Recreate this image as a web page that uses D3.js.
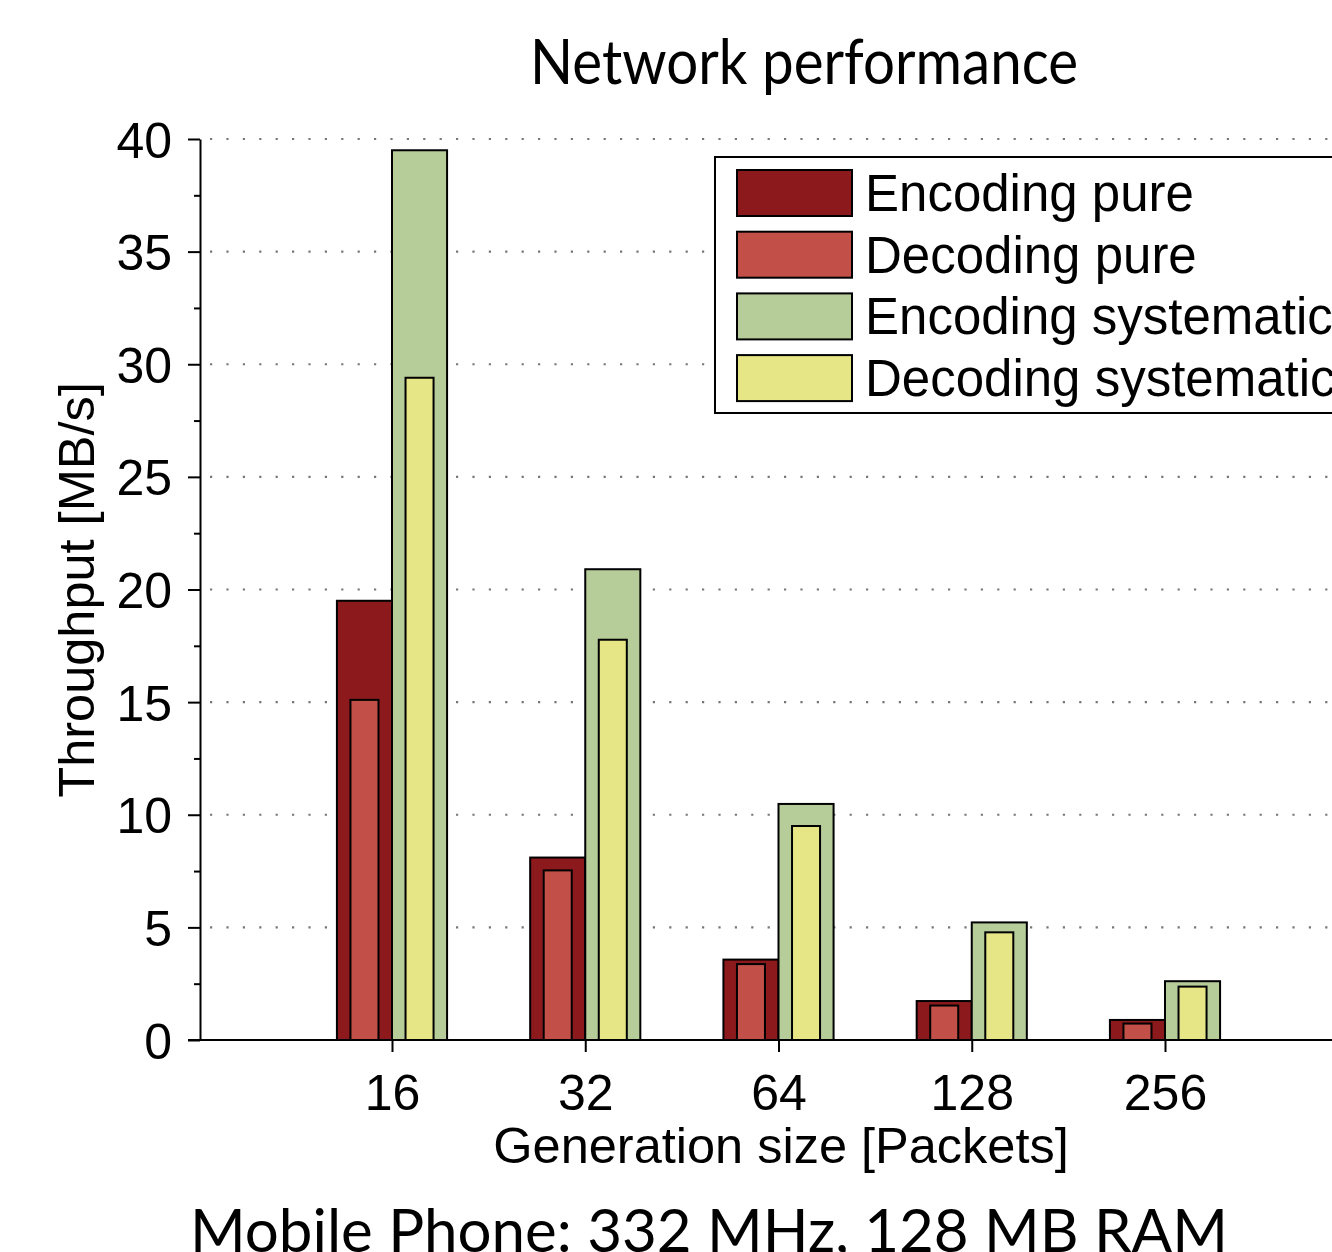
<!DOCTYPE html>
<html>
<head>
  <meta charset="utf-8">
  <script src="https://d3js.org/d3.v7.min.js"></script>
  <style>
    body { margin: 0; background: #fff; }
    svg { display: block; }
    .axis text { font-family: "Liberation Sans", Arial, sans-serif; font-size: 50px; fill: #000; }
    .axis path, .axis line { stroke: #000; stroke-width: 2px; }
  </style>
</head>
<body>
<script>
  // chart values
  var generations = ["16", "32", "64", "128", "256"];
  var encodingPure = [19.5, 8.1, 3.57, 1.73, 0.89];
  var decodingPure = [15.1, 7.53, 3.37, 1.53, 0.73];
  var encodingSystematic = [39.5, 20.9, 10.48, 5.22, 2.61];
  var decodingSystematic = [29.4, 17.77, 9.5, 4.78, 2.37];
  var seriesNames = ["Encoding pure", "Decoding pure", "Encoding systematic", "Decoding systematic"];
  var seriesColors = ["#8c1a1c", "#c25048", "#b6cc99", "#e7e686"];
  var yTicks = [0, 5, 10, 15, 20, 25, 30, 35, 40];

  var width = 1332, height = 1252;
  var svg = d3.select("body").append("svg")
    .attr("width", width)
    .attr("height", height);

  var y = d3.scaleLinear().domain([0, 40]).range([1040, 139]);
  var x = d3.scalePoint().domain(generations).range([392, 1165]);
  var step = x.step();
  var barW = step * 0.285,   // outer bar width
      innerW = step * 0.145; // inner bar width

  // dotted grid lines
  svg.append("g").selectAll("line")
    .data(yTicks.filter(function(d) { return d > 0; }))
    .enter().append("line")
    .attr("x1", 200).attr("x2", width)
    .attr("y1", function(d) { return y(d); })
    .attr("y2", function(d) { return y(d); })
    .attr("stroke", "#777")
    .attr("stroke-width", 2.2)
    .attr("stroke-dasharray", "2.2,14.2")
    .attr("stroke-dashoffset", -10);

  // bars: pure pair to the left of the tick, systematic pair to the right
  var bars = svg.append("g");
  function drawBars(values, color, offset, w) {
    bars.selectAll(null)
      .data(values)
      .enter().append("rect")
      .attr("x", function(d, i) { return x(generations[i]) + offset; })
      .attr("y", function(d) { return y(d); })
      .attr("width", w)
      .attr("height", function(d) { return y(0) - y(d); })
      .attr("fill", color)
      .attr("stroke", "#000")
      .attr("stroke-width", 2);
  }
  drawBars(encodingPure, seriesColors[0], -barW, barW);
  drawBars(decodingPure, seriesColors[1], -barW + (barW - innerW) / 2, innerW);
  drawBars(encodingSystematic, seriesColors[2], 0, barW);
  drawBars(decodingSystematic, seriesColors[3], (barW - innerW) / 2, innerW);

  // y axis: major + minor ticks
  var yAxis = svg.append("g")
    .attr("class", "axis")
    .attr("transform", "translate(200,0)")
    .call(d3.axisLeft(y).tickValues(yTicks).tickSize(12).tickSizeOuter(0).tickPadding(16));
  yAxis.selectAll("text").attr("dy", "0.36em");
  svg.append("g")
    .attr("class", "axis")
    .attr("transform", "translate(200,0)")
    .call(d3.axisLeft(y).tickValues(d3.range(2.5, 40, 5)).tickSize(6).tickSizeOuter(0).tickFormat(""))
    .select(".domain").remove();

  // x axis
  var xAxis = svg.append("g")
    .attr("class", "axis")
    .attr("transform", "translate(0,1040)")
    .call(d3.axisBottom(x).tickSize(12).tickSizeOuter(0).tickPadding(22));
  xAxis.select(".domain").attr("d", "M188,0H" + width);
  xAxis.selectAll("text").attr("dy", "0.71em");

  // axis titles
  svg.append("text")
    .attr("x", 781).attr("y", 1163)
    .attr("text-anchor", "middle")
    .style("font-family", "'Liberation Sans', Arial, sans-serif")
    .style("font-size", "50.5px")
    .text("Generation size [Packets]");

  svg.append("text")
    .attr("transform", "translate(94,590) rotate(-90)")
    .attr("text-anchor", "middle")
    .style("font-family", "'Liberation Sans', Arial, sans-serif")
    .style("font-size", "50.5px")
    .text("Throughput [MB/s]");

  // title and caption
  svg.append("text")
    .attr("x", 804).attr("y", 84)
    .attr("text-anchor", "middle")
    .attr("textLength", 548)
    .attr("lengthAdjust", "spacingAndGlyphs")
    .style("font-family", "Lato, 'Open Sans', sans-serif")
    .style("font-size", "62px")
    .text("Network performance");

  svg.append("text")
    .attr("x", 709).attr("y", 1252)
    .attr("text-anchor", "middle")
    .attr("textLength", 1038)
    .attr("lengthAdjust", "spacingAndGlyphs")
    .style("font-family", "Lato, 'Open Sans', sans-serif")
    .style("font-size", "60px")
    .text("Mobile Phone: 332 MHz, 128 MB RAM");

  // legend
  var legend = svg.append("g");
  legend.append("rect")
    .attr("x", 715).attr("y", 157)
    .attr("width", 700).attr("height", 256)
    .attr("fill", "#fff")
    .attr("stroke", "#000")
    .attr("stroke-width", 2);
  var items = legend.selectAll("g.item")
    .data(seriesNames)
    .enter().append("g")
    .attr("class", "item")
    .attr("transform", function(d, i) { return "translate(0," + (i * 61.7) + ")"; });
  items.append("rect")
    .attr("x", 737).attr("y", 170)
    .attr("width", 115).attr("height", 46)
    .attr("fill", function(d, i) { return seriesColors[i]; })
    .attr("stroke", "#000")
    .attr("stroke-width", 2);
  items.append("text")
    .attr("x", 865).attr("y", 211)
    .style("font-family", "'Liberation Sans', Arial, sans-serif")
    .style("font-size", "51px")
    .text(function(d) { return d; });
</script>
</body>
</html>
